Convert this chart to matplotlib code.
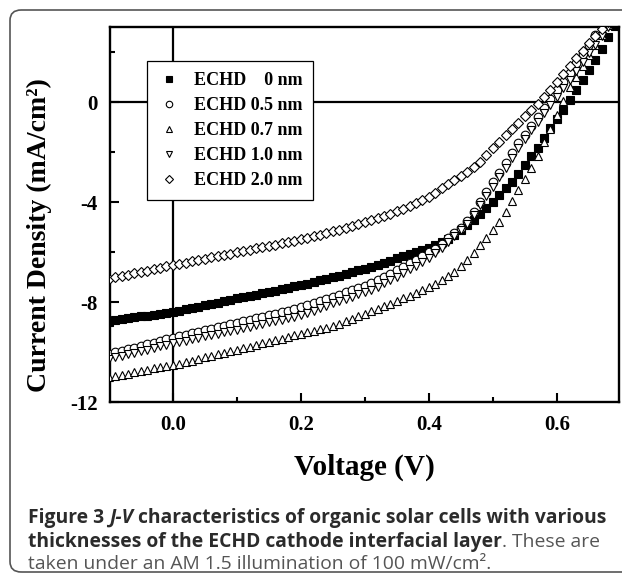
import numpy as np
import matplotlib
matplotlib.use("Agg")
import matplotlib.pyplot as plt
from matplotlib.patches import FancyBboxPatch

# ---------------- data ----------------
voltage = np.round(np.arange(-0.10, 0.695, 0.01), 2)

j_0nm = [-8.78, -8.72, -8.68, -8.65, -8.61, -8.57, -8.54, -8.50, -8.47, -8.43, -8.39,
         -8.34, -8.29, -8.24, -8.19, -8.13, -8.08, -8.02, -7.97, -7.91, -7.85,
         -7.80, -7.75, -7.70, -7.65, -7.60, -7.54, -7.48, -7.43, -7.37, -7.32,
         -7.26, -7.20, -7.13, -7.07, -7.01, -6.94, -6.87, -6.80, -6.73, -6.67,
         -6.59, -6.51, -6.43, -6.35, -6.24, -6.15, -6.07, -5.99, -5.91, -5.83,
         -5.72, -5.60, -5.46, -5.30, -5.12, -4.91, -4.70, -4.47, -4.25, -3.99,
         -3.73, -3.45, -3.18, -2.86, -2.50, -2.14, -1.82, -1.43, -1.05, -0.68,
         -0.30, 0.10, 0.48, 0.88, 1.28, 1.69, 2.12, 2.60, 3.05]

j_05nm = [-10.08, -10.01, -9.95, -9.88, -9.82, -9.75, -9.69, -9.62, -9.56, -9.49, -9.43,
          -9.37, -9.31, -9.25, -9.19, -9.13, -9.07, -9.01, -8.95, -8.89, -8.83,
          -8.77, -8.71, -8.65, -8.59, -8.52, -8.46, -8.40, -8.34, -8.27, -8.21,
          -8.13, -8.05, -7.96, -7.88, -7.79, -7.70, -7.61, -7.52, -7.43, -7.34,
          -7.23, -7.11, -6.99, -6.86, -6.72, -6.58, -6.44, -6.30, -6.16, -6.01,
          -5.86, -5.66, -5.45, -5.23, -5.03, -4.75, -4.40, -3.99, -3.59, -3.19,
          -2.82, -2.45, -2.05, -1.65, -1.30, -0.95, -0.60, -0.25, 0.12, 0.47,
          0.81, 1.15, 1.55, 1.93, 2.30, 2.67, 3.02, 3.40, 3.80]

j_07nm = [-11.01, -10.96, -10.91, -10.86, -10.80, -10.75, -10.70, -10.65, -10.60, -10.56, -10.52,
          -10.46, -10.40, -10.34, -10.28, -10.21, -10.15, -10.09, -10.02, -9.96, -9.90,
          -9.84, -9.78, -9.72, -9.65, -9.59, -9.52, -9.46, -9.40, -9.33, -9.27,
          -9.21, -9.15, -9.09, -9.02, -8.96, -8.86, -8.76, -8.66, -8.56, -8.47,
          -8.37, -8.27, -8.17, -8.06, -7.96, -7.85, -7.74, -7.62, -7.50, -7.38,
          -7.27, -7.12, -6.97, -6.78, -6.55, -6.30, -6.02, -5.72, -5.42, -5.12,
          -4.79, -4.38, -3.95, -3.50, -3.07, -2.65, -2.15, -1.60, -1.06, -0.52,
          0.05, 0.60, 1.02, 1.45, 1.90, 2.30, 2.70, 3.10, 3.50]

j_10nm = [-10.28, -10.21, -10.15, -10.09, -10.02, -9.96, -9.90, -9.84, -9.77, -9.71, -9.65,
          -9.59, -9.54, -9.48, -9.43, -9.37, -9.32, -9.26, -9.21, -9.15, -9.10,
          -9.04, -8.98, -8.93, -8.87, -8.81, -8.76, -8.70, -8.64, -8.59, -8.53,
          -8.44, -8.35, -8.25, -8.15, -8.05, -7.96, -7.87, -7.78, -7.69, -7.61,
          -7.50, -7.38, -7.25, -7.12, -6.98, -6.84, -6.69, -6.54, -6.39, -6.24,
          -6.05, -5.82, -5.59, -5.36, -5.13, -4.88, -4.52, -4.12, -3.75, -3.39,
          -3.00, -2.62, -2.24, -1.85, -1.48, -1.12, -0.78, -0.45, -0.12, 0.20,
          0.55, 0.90, 1.25, 1.60, 1.95, 2.30, 2.65, 3.00, 3.35]

j_20nm = [-7.07, -7.01, -6.96, -6.90, -6.85, -6.79, -6.74, -6.68, -6.63, -6.57, -6.52,
          -6.47, -6.42, -6.37, -6.32, -6.27, -6.21, -6.16, -6.11, -6.06, -6.01,
          -5.96, -5.91, -5.85, -5.80, -5.75, -5.70, -5.64, -5.59, -5.54, -5.49,
          -5.43, -5.37, -5.30, -5.24, -5.17, -5.10, -5.03, -4.96, -4.89, -4.81,
          -4.73, -4.65, -4.56, -4.47, -4.37, -4.27, -4.16, -4.05, -3.93, -3.78,
          -3.62, -3.44, -3.28, -3.12, -2.96, -2.79, -2.60, -2.39, -2.12, -1.85,
          -1.58, -1.32, -1.07, -0.82, -0.57, -0.32, -0.07, 0.20, 0.50, 0.81,
          1.13, 1.45, 1.76, 2.05, 2.36, 2.65, 2.92, 3.20, 3.50]

series_labels = ["ECHD    0 nm", "ECHD 0.5 nm", "ECHD 0.7 nm", "ECHD 1.0 nm", "ECHD 2.0 nm"]
x_ticks = [0.0, 0.2, 0.4, 0.6]
x_tick_labels = ["0.0", "0.2", "0.4", "0.6"]
y_ticks = [0, -4, -8, -12]
y_tick_labels = ["0", "-4", "-8", "-12"]

# ---------------- figure ----------------
W, H = 622, 579
fig = plt.figure(figsize=(W / 100, H / 100), dpi=100)
fig.patch.set_facecolor("white")

# rounded outer frame
frame = FancyBboxPatch((10 / W, 7 / H), 700 / W, (572 - 10) / H,
                       boxstyle="round,pad=0,rounding_size=0.018",
                       transform=fig.transFigure, facecolor="none",
                       edgecolor="#555555", linewidth=1.2)
fig.patches.append(frame)

ax = fig.add_axes([110 / W, 1 - 402 / H, (619 - 110) / W, (402 - 27) / H])

serif = "Liberation Serif"
markers = ["s", "o", "^", "v", "D"]
face = ["black", "white", "white", "white", "white"]
sizes = [5.4, 6.2, 6.2, 6.2, 5.0]
data = [j_0nm, j_05nm, j_07nm, j_10nm, j_20nm]
handles = []
for d, m, fc, ms, lab in zip(data, markers, face, sizes, series_labels):
    h, = ax.plot(voltage, d, linestyle="none", marker=m, markersize=ms,
                 markerfacecolor=fc, markeredgecolor="black", markeredgewidth=0.8,
                 label=lab, zorder=3)
    handles.append(h)

ax.axhline(0, color="black", linewidth=1.6, zorder=2)
ax.axvline(0, color="black", linewidth=1.6, zorder=2)

ax.set_xlim(-0.098, 0.697)
ax.set_ylim(-12, 3)
ax.set_xticks(x_ticks)
ax.set_xticklabels(x_tick_labels)
ax.set_xticks([0.1, 0.3, 0.5], minor=True)
ax.set_yticks(y_ticks)
ax.set_yticklabels(y_tick_labels)
ax.set_yticks([2, -2, -6, -10], minor=True)

for s in ax.spines.values():
    s.set_linewidth(1.7)
ax.tick_params(which="both", direction="in", top=False, right=False, width=1.5)
ax.tick_params(which="major", length=6.5, pad=9)
ax.tick_params(which="minor", length=3.5)
for lbl in ax.get_xticklabels() + ax.get_yticklabels():
    lbl.set_fontfamily(serif)
    lbl.set_fontweight("bold")
    lbl.set_fontsize(15)

ax.set_xlabel("Voltage (V)", fontfamily=serif, fontweight="bold", fontsize=21, labelpad=14)
ax.set_ylabel("Current Density (mA/cm²)", fontfamily=serif, fontweight="bold", fontsize=20)
ax.yaxis.set_label_coords((52 - 110) / 509, (402 - 235) / 375)

leg = ax.legend(handles=handles, loc="upper left", bbox_to_anchor=((147 - 110) / 509, 1 - (61 - 27) / 375),
                prop={"family": serif, "weight": "bold", "size": 13},
                frameon=True, fancybox=False, edgecolor="black", framealpha=1,
                markerscale=0.75, handlelength=1.2, handletextpad=0.8,
                labelspacing=0.45, borderpad=0.6, borderaxespad=0)
leg.get_frame().set_linewidth(0.9)

# ---------------- caption ----------------
cap_font = "Open Sans"
cap_size = 13.9
dark = "#2b2b2b"
grey = "#555555"
renderer = fig.canvas.get_renderer()


def text_width(s, **kw):
    t = fig.text(0, 0, s, **kw)
    w = t.get_window_extent(renderer).width
    t.remove()
    return w


def put_line(y_px, pieces, x_px=28):
    x = x_px
    for s, kw in pieces:
        base = dict(fontfamily=cap_font, fontsize=cap_size, va="baseline", ha="left")
        base.update(kw)
        lead = len(s) - len(s.lstrip(" "))
        if lead:
            x += text_width("x" + " " * lead + "x", **base) - text_width("xx", **base)
        core = s.strip(" ")
        t = fig.text(x / W, 1 - y_px / H, core, **base)
        x += t.get_window_extent(renderer).width
        trail = len(s) - len(s.rstrip(" "))
        if trail:
            x += text_width("x" + " " * trail + "x", **base) - text_width("xx", **base)


bold = dict(fontweight="bold", color=dark)
bolditalic = dict(fontweight="bold", fontstyle="italic", color=dark)
reg = dict(fontweight="normal", color=grey)

put_line(523, [("Figure 3 ", bold), ("J-V", bolditalic),
               (" characteristics of organic solar cells with various", bold)])
put_line(547, [("thicknesses of the ECHD cathode interfacial layer", bold),
               (". These are", reg)])
put_line(569, [("taken under an AM 1.5 illumination of 100 mW/cm².", reg)])

fig.savefig("out.png", dpi=100)
